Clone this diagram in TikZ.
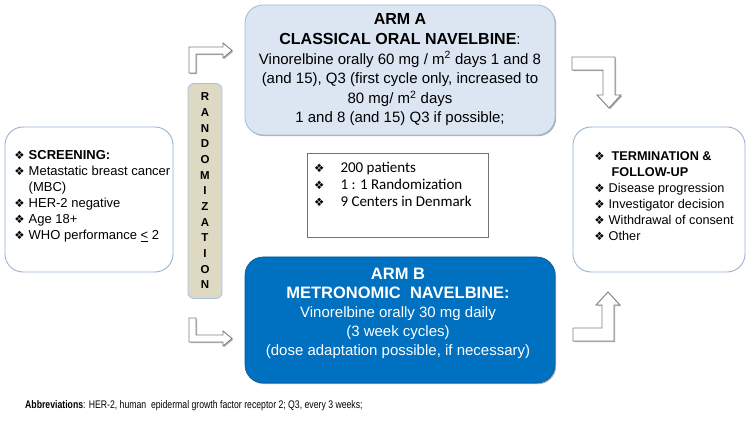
\documentclass[tikz,border=0pt]{standalone}
\usepackage{fontspec}
\setmainfont{Liberation Sans}
\newfontfamily\calibrifont{Carlito}
\newfontfamily\dingfont{DejaVu Sans}
\usepackage{xcolor}
\usetikzlibrary{matrix,shadows,positioning}
\definecolor{armAblue}{HTML}{DCE6F2}
\definecolor{armAedge}{HTML}{A5B9D3}
\definecolor{armBblue}{HTML}{0070C0}
\definecolor{randTan}{HTML}{DDD9C3}
\definecolor{randEdge}{HTML}{A9C0DC}
\definecolor{sideEdge}{HTML}{95B3D7}
\definecolor{arrowGrey}{HTML}{808080}
\newcommand{\dia}{{\dingfont\fontsize{11.5}{11.5}\selectfont\char"2756}}
\tikzset{
  softshadow/.style={drop shadow={shadow xshift=1.2pt,shadow yshift=-1.2pt,opacity=.3,fill=black}},
  sidebox/.style={draw=sideEdge,line width=0.9pt,fill=white,rounded corners=18pt,minimum width=168pt,minimum height=145pt},
  armbox/.style={rounded corners=18pt,minimum width=310pt,inner sep=0pt,softshadow},
  blockarrow/.style={draw=arrowGrey,fill=white,line width=0.9pt,line join=miter,softshadow},
  listrows/.style={matrix of nodes,inner sep=0pt,column sep=4pt,nodes={anchor=base west,inner sep=0pt,text height=10pt,text depth=6pt}}
}

\begin{document}
\begin{tikzpicture}[x=1pt,y=-1pt]
\useasboundingbox (0,0) rectangle (749,446);

% side boxes
\node[sidebox] (screen) at (89,199.5) {};
\node[sidebox,minimum width=172pt] (followup) at (659,199.5) {};
\matrix[listrows,anchor=north west,font=\fontsize{13}{16}\selectfont] (screenlist) at (14,149.6) {
\dia & \textbf{SCREENING:} \\
\dia & Metastatic breast cancer \\
     & (MBC) \\
\dia & HER-2 negative \\
\dia & Age 18+ \\
\dia & WHO performance \underline{<} 2 \\
};
\matrix[listrows,anchor=north west,font=\fontsize{12.7}{16}\selectfont] (followlist) at (594,150.6) {
\dia & \hspace{3pt}\textbf{TERMINATION \&} \\
     & \hspace{3pt}\textbf{FOLLOW-UP} \\
\dia & Disease progression \\
\dia & Investigator decision \\
\dia & Withdrawal of consent \\
\dia & Other \\
};

% randomization bar
\node[draw=randEdge,fill=randTan,rounded corners=6pt,line width=0.8pt,minimum width=34pt,minimum height=215pt,align=center,font=\fontsize{11.5}{15.67}\selectfont\bfseries] (rand) at (205,191) {R\\A\\N\\D\\O\\M\\I\\Z\\A\\T\\I\\O\\N};

% arms
\node[armbox,fill=armAblue,draw=armAedge,line width=0.8pt,minimum height=130pt,align=center,font=\fontsize{15}{19.6}\selectfont] (armA) at (400,70) {{\fontsize{16}{19.6}\selectfont\bfseries ARM A}\\{\fontsize{16}{19.6}\selectfont\bfseries CLASSICAL ORAL NAVELBINE}:\\Vinorelbine orally 60 mg / m\textsuperscript{2} days 1 and 8\\(and 15), Q3 (first cycle only, increased to\\80 mg/ m\textsuperscript{2} days\\1 and 8 (and 15) Q3 if possible;};
\node[armbox,fill=armBblue,draw=armBblue!80!black,line width=0.6pt,minimum height=126pt] (armB) at (400,320) {};
\node[align=center,text=white,font=\fontsize{15}{19}\selectfont] (armBtext) at (398,313) {{\fontsize{16.5}{19}\selectfont\bfseries ARM B}\\{\fontsize{16.5}{19}\selectfont\bfseries METRONOMIC\ \ NAVELBINE:}\\Vinorelbine orally 30 mg daily\\(3 week cycles)\\(dose adaptation possible, if necessary)};

% study facts
\node[draw=black!55,line width=0.7pt,minimum width=181pt,minimum height=84pt] (info) at (397.5,195) {};
\matrix[listrows,anchor=north west,column sep=16pt,nodes={text height=11.3pt,text depth=6pt},font=\calibrifont\fontsize{15}{17.3}\selectfont] (infolist) at (314,160.7) {
\dia & 200 patients \\
\dia & 1 : 1 Randomization \\
\dia & 9 Centers in Denmark \\
};

% bent block arrows
\draw[blockarrow] (189,73) -- (189,47) -- (223,47) -- (223,43) -- (232,50.5) -- (223,58) -- (223,54) -- (196,54) -- (196,73) -- cycle;
\draw[blockarrow] (189,318) -- (196,318) -- (196,335) -- (223,335) -- (223,331) -- (232,338.5) -- (223,346) -- (223,342) -- (189,342) -- cycle;
\draw[blockarrow] (572,57) -- (615,57) -- (615,95) -- (621,95) -- (609,108) -- (597,95) -- (603,95) -- (603,70) -- (572,70) -- cycle;
\draw[blockarrow] (573,341) -- (614,341) -- (614,305) -- (620,305) -- (608,292) -- (596,305) -- (602,305) -- (602,328) -- (573,328) -- cycle;

\node[anchor=base west,inner sep=0pt,font=\fontsize{11}{13}\selectfont] (abbrev) at (25,408) {\scalebox{0.79}[1]{\textbf{Abbreviations}: HER-2, human\ \ epidermal growth factor receptor 2; Q3, every 3 weeks;}};
\end{tikzpicture}
\end{document}
